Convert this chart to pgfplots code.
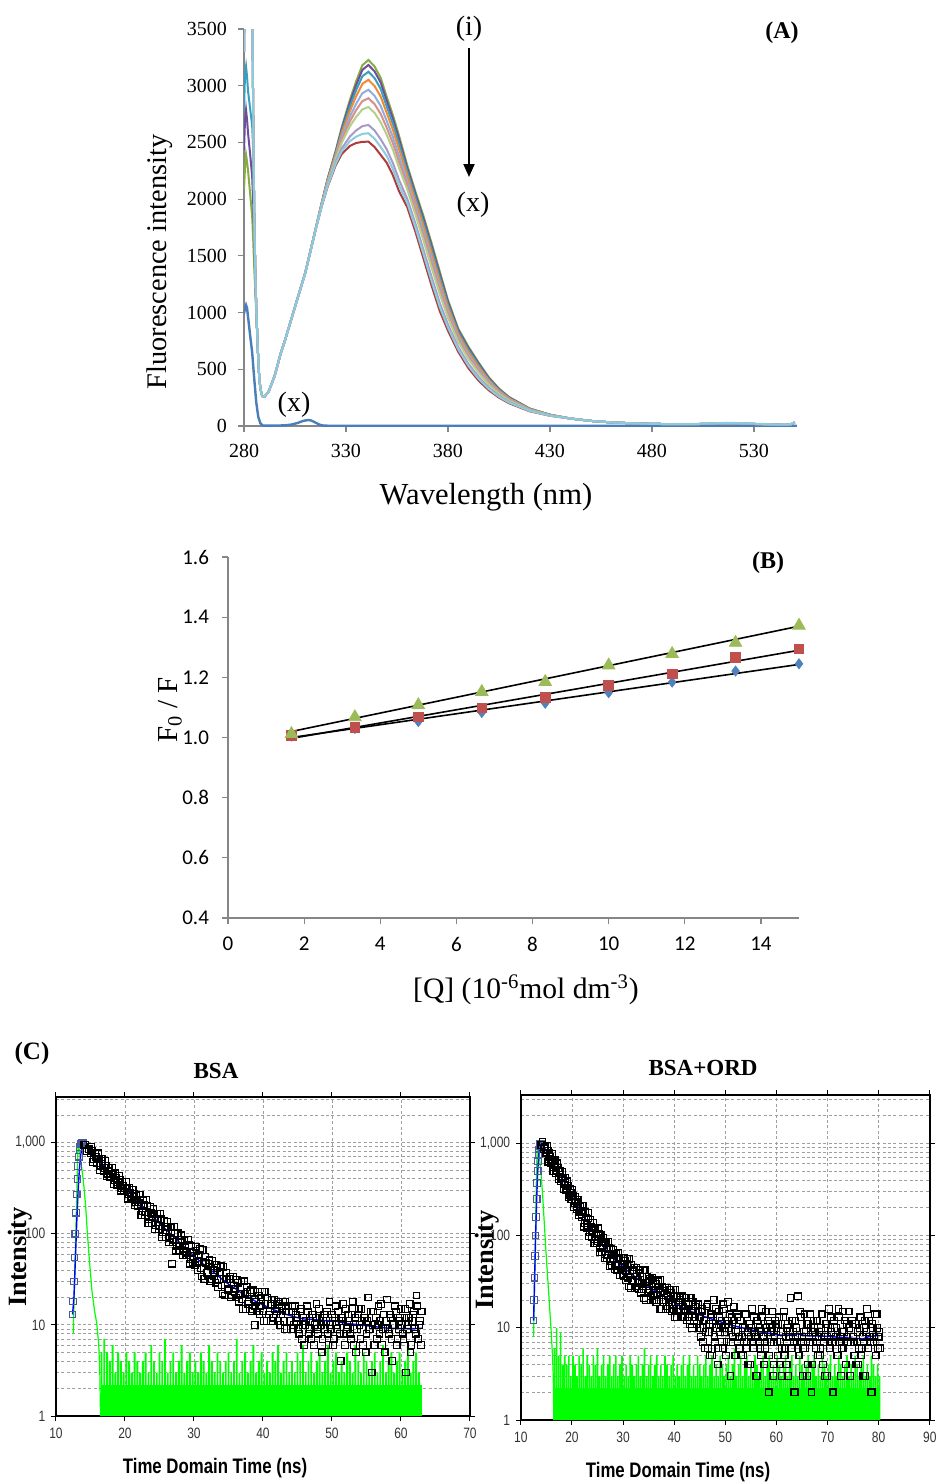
\documentclass[border=0pt]{standalone}
\usepackage{fontspec}
\setmainfont{Liberation Serif}
\newfontfamily\calibri{Carlito}
\newfontfamily\arial{Liberation Sans}
\usepackage{pgfplots}
\pgfplotsset{compat=1.18}
\usepackage{pgfplotstable}
\usetikzlibrary{arrows.meta}

\definecolor{axgray}{HTML}{868686}
\definecolor{cblue}{HTML}{4A7EBB}
\definecolor{cred}{HTML}{B03A37}
\definecolor{cgreen}{HTML}{86AC43}
\definecolor{cpurple}{HTML}{6E4E9C}
\definecolor{cteal}{HTML}{3A9FBE}
\definecolor{corange}{HTML}{F28A33}
\definecolor{clblue}{HTML}{8FAEDB}
\definecolor{cpink}{HTML}{D98E8C}
\definecolor{clgreen}{HTML}{B3CF8A}
\definecolor{clav}{HTML}{A999C9}
\definecolor{clteal}{HTML}{8ACBDF}
\definecolor{bblue}{HTML}{4F81BD}
\definecolor{bred}{HTML}{C0504D}
\definecolor{bgreen}{HTML}{9BBB59}
\definecolor{risecol}{HTML}{4A5A9A}
\definecolor{ticktxt}{HTML}{333333}

\pgfplotstableread{
x g p t o lb pk lg lv lt r
280 2080 2430 2780 3300 3300 3300 3300 3300 3300 3300
280.5 2280 2700 3100 4000 4000 4000 4000 4000 4000 4000
281 2390 2787 3170 4500 4500 4500 4500 4500 4500 4500
281.5 2330 2700 3080 4500 4500 4500 4500 4500 4500 4500
282 2250 2580 2950 4500 4500 4500 4500 4500 4500 4500
283 2050 2400 2800 4200 4200 4200 4200 4200 4200 4200
284 1850 2200 2650 3800 3800 3800 3800 3800 3800 3800
284.5 1650 1980 2450 2800 2800 2800 2800 2800 2800 2800
285 1400 1650 1850 1900 1900 1900 1900 1900 1900 1900
285.5 1200 1350 1400 1400 1400 1400 1400 1400 1400 1400
286 1000 1030 1050 1050 1050 1050 1050 1050 1050 1050
286.5 800 800 800 800 800 800 800 800 800 800
287 580 580 580 580 580 580 580 580 580 580
287.5 420 420 420 420 420 420 420 420 420 420
288 340 340 340 340 340 340 340 340 340 340
288.5 290 290 290 290 290 290 290 290 290 290
289 262 262 262 262 262 262 262 262 262 262
290 258 258 258 258 258 258 258 258 258 258
292 300 300 300 300 300 300 300 300 300 300
295 440 440 440 440 440 440 440 440 440 440
298 641 641 641 641 641 641 641 641 641 641
300 750 750 750 750 750 750 750 750 750 750
305 1050 1050 1050 1050 1050 1050 1050 1050 1050 1050
308 1230 1230 1230 1230 1229 1229 1229 1228 1228 1228
310 1350 1350 1349 1349 1348 1348 1347 1346 1346 1345
315 1730 1729 1729 1728 1726 1725 1724 1722 1721 1720
318 1960 1958 1956 1953 1949 1946 1943 1936 1933 1930
321 2180 2176 2170 2163 2154 2147 2140 2124 2117 2110
325 2430 2422 2411 2398 2383 2369 2355 2327 2313 2300
328 2640 2625 2605 2582 2552 2528 2502 2449 2425 2400
332 2880 2855 2821 2780 2730 2688 2644 2554 2512 2470
335 3040 3007 2962 2908 2841 2785 2726 2606 2551 2495
338 3180 3139 3083 3016 2934 2864 2791 2643 2575 2505
341 3227 3183 3123 3052 2964 2890 2812 2654 2581 2507
344 3170 3127 3068 2997 2911 2838 2761 2605 2533 2460
347 3070 3029 2972 2905 2822 2752 2678 2529 2460 2390
350 2900 2865 2816 2759 2688 2629 2566 2438 2380 2320
353 2740 2708 2664 2611 2547 2492 2435 2318 2265 2210
356 2560 2530 2489 2441 2381 2331 2278 2170 2120 2070
360 2300 2277 2247 2210 2165 2127 2087 2005 1968 1930
364 2070 2048 2019 1984 1940 1904 1866 1787 1752 1715
368 1850 1827 1796 1759 1713 1675 1634 1552 1514 1475
372 1610 1587 1556 1519 1473 1435 1394 1312 1274 1235
376 1360 1339 1310 1275 1233 1197 1160 1083 1048 1012
380 1110 1094 1071 1044 1011 984 954 895 868 840
385 860 847 830 810 785 764 742 697 676 655
390 700 688 673 654 631 611 591 549 530 510
395 560 550 537 521 502 485 468 433 416 400
400 430 423 413 402 388 376 364 338 327 315
405 330 325 318 311 301 293 284 266 258 250
410 255 252 247 242 235 229 223 211 206 200
420 155 153 151 149 146 143 141 135 133 130
430 100 99 99 98 96 95 94 92 91 90
440 66 66 66 66 66 66 66 66 66 66
450 45 45 45 45 45 45 45 45 45 45
460 32 32 32 32 32 32 32 32 32 32
470 24 24 24 24 24 24 24 24 24 24
480 19 19 19 19 19 19 19 19 19 19
490 16 16 16 16 16 16 16 16 16 16
500 16 16 16 16 16 16 16 16 17 16
510 21 21 21 21 21 21 21 21 24 20
515 24 24 24 24 24 24 24 24 27 23
520 24 24 24 24 24 24 24 24 27 23
530 18 18 18 18 18 18 18 18 21 17
540 12 12 12 12 12 12 12 12 14 11
545 10 10 10 10 10 10 10 10 12 10
548 14 14 14 14 14 14 14 14 16 14
550 32 32 32 32 32 32 32 32 34 30
}\spectra

\pgfplotstableread{
x y
280 990
280.5 1040
281 1067
281.5 1040
282 960
283 800
284 650
285 420
286 210
287 80
288 25
289 6
290 3
295 3
300 6
303 12
306 25
309 45
311.5 53
313 48
315 30
317 12
319 4
322 2
340 2
400 1
551 1
}\bluecurve

\begin{document}
\begin{tikzpicture}
\path[use as bounding box] (0pt,0pt) rectangle (468.5pt,-742pt);

% ---------------- Panel A ----------------
\begin{axis}[at={(122pt,-213pt)}, anchor=south west, scale only axis,
  width=276.4pt, height=198.5pt,
  xmin=280, xmax=551, ymin=0, ymax=3500,
  axis x line*=bottom, axis y line*=left,
  axis line style={draw=axgray, line width=0.6pt},
  xtick={280,330,380,430,480,530}, ytick={0,500,1000,1500,2000,2500,3000,3500},
  tick style={draw=axgray, line width=0.6pt}, tick align=outside, major tick length=3pt,
  tick label style={font=\fontsize{10}{12}\selectfont},
  xticklabel style={yshift=-2.5pt}, yticklabel style={xshift=-2pt},
  /pgf/number format/assume math mode=true, /pgf/number format/1000 sep={},
  clip=true]
\addplot[cblue, line width=1.2pt] table[x=x,y=y]{\bluecurve};
\addplot[cred, line width=1pt] table[x=x,y=r]{\spectra};
\addplot[cgreen, line width=1pt] table[x=x,y=g]{\spectra};
\addplot[cpurple, line width=1pt] table[x=x,y=p]{\spectra};
\addplot[cteal, line width=1pt] table[x=x,y=t]{\spectra};
\addplot[corange, line width=1pt] table[x=x,y=o]{\spectra};
\addplot[clblue, line width=1pt] table[x=x,y=lb]{\spectra};
\addplot[cpink, line width=1pt] table[x=x,y=pk]{\spectra};
\addplot[clgreen, line width=1pt] table[x=x,y=lg]{\spectra};
\addplot[clav, line width=1pt] table[x=x,y=lv]{\spectra};
\addplot[clteal, line width=1pt] table[x=x,y=lt]{\spectra};
\end{axis}
\node[font=\fontsize{14.2}{16}\selectfont, rotate=90] at (80pt,-131pt) {Fluorescence intensity};
\node[font=\fontsize{15.3}{17}\selectfont] at (243pt,-248.5pt) {Wavelength (nm)};
\node[font=\fontsize{14}{16}\selectfont] at (234.5pt,-14.5pt) {(i)};
\draw[line width=1pt, -{Triangle[length=6.5pt,width=5.5pt]}] (234.5pt,-24pt) -- (234.5pt,-88.5pt);
\node[font=\fontsize{14}{16}\selectfont] at (236.5pt,-102.5pt) {(x)};
\node[font=\fontsize{14}{16}\selectfont] at (147pt,-202.5pt) {(x)};
\node[font=\bfseries\fontsize{12}{14}\selectfont] at (391pt,-16.5pt) {(A)};

% ---------------- Panel B ----------------
\begin{axis}[at={(114pt,-459pt)}, anchor=south west, scale only axis,
  width=285.5pt, height=180.5pt,
  xmin=0, xmax=15, ymin=0.4, ymax=1.6,
  axis x line*=bottom, axis y line*=left,
  axis line style={draw=axgray, line width=0.6pt},
  xtick={0,2,4,6,8,10,12,14}, ytick={0.4,0.6,0.8,1.0,1.2,1.4,1.6},
  tick style={draw=axgray, line width=0.6pt}, tick align=outside, major tick length=3pt,
  tick label style={font=\calibri\fontsize{10.5}{12}\selectfont},
  xticklabel style={yshift=-3pt}, yticklabel style={xshift=-3pt},
  yticklabel style={/pgf/number format/.cd, fixed, fixed zerofill, precision=1},
  /pgf/number format/assume math mode=true,
  clip=false]
\addplot[only marks, mark=diamond*, mark size=2.5pt, mark options={fill=bblue, draw=bblue}]
  coordinates {(1.667,1.005)(3.333,1.030)(5,1.053)(6.667,1.083)(8.333,1.114)(10,1.149)(11.667,1.184)(13.333,1.221)(15,1.245)};
\addplot[only marks, mark=square*, mark size=2.4pt, mark options={fill=bred, draw=bred}]
  coordinates {(1.667,1.008)(3.333,1.034)(5,1.069)(6.667,1.099)(8.333,1.133)(10,1.173)(11.667,1.211)(13.333,1.267)(15,1.294)};
\addplot[only marks, mark=triangle*, mark size=3.6pt, mark options={fill=bgreen, draw=bgreen}]
  coordinates {(1.667,1.012)(3.333,1.068)(5,1.108)(6.667,1.152)(8.333,1.185)(10,1.240)(11.667,1.278)(13.333,1.315)(15,1.372)};
\addplot[black, line width=0.8pt] coordinates {(1.667,1.020)(15,1.370)};
\addplot[black, line width=0.8pt] coordinates {(1.667,0.997)(15,1.290)};
\addplot[black, line width=0.8pt] coordinates {(1.667,1.000)(15,1.243)};
\end{axis}
\node[font=\fontsize{14.5}{16}\selectfont, rotate=90] at (85pt,-355pt) {F\textsubscript{0} / F};
\node[font=\fontsize{14.8}{17}\selectfont] at (263pt,-495pt) {[Q] (10\textsuperscript{-6}mol dm\textsuperscript{-3})};
\node[font=\bfseries\fontsize{12}{14}\selectfont] at (384pt,-281.5pt) {(B)};

% ---------------- Panel C left (BSA) ----------------
\begin{axis}[at={(28pt,-708pt)}, anchor=south west, scale only axis, width=207pt, height=159.5pt,
  xmin=10, xmax=70, ymode=log, ymin=1, ymax=3162, xtick={10,20,30,40,50,60,70},
  ytick={1,10,100,1000}, yticklabels={1,10,100,{1,000}},
  minor ytick={2,3,4,5,6,7,8,9,20,30,40,50,60,70,80,90,200,300,400,500,600,700,800,900,2000,3000},
  grid=both,
  major grid style={dash pattern=on 1.5pt off 1.2pt, draw=gray!75, line width=0.4pt},
  minor grid style={dash pattern=on 1.5pt off 1.2pt, draw=gray!75, line width=0.4pt},
  axis line style={line width=1pt, black},
  tick align=outside, major tick length=2.5pt, minor tick length=0pt,
  tick style={black, line width=0.5pt},
  tick label style={font=\arial\fontsize{7.5}{8}\selectfont, xscale=0.8, text=ticktxt},
  /pgf/number format/assume math mode=true,
  clip=true]
\addplot[fill=green, draw=none] coordinates {(16.5,1)(16.5,2.2)(63,2.2)(63,1)};
\addplot[ybar, bar width=0.95pt, fill=green, draw=none] coordinates {
(16.6,5)(17,7)(17.4,5)(17.8,4)(18.2,6)(18.6,3)(19,5)(19.4,4)(19.8,3)(20.2,5)(20.6,4)(21,3)(21.4,5)(21.8,4)(22.2,3)(22.6,4)(23,5)(23.4,3)(23.8,6)(24.2,4)(24.6,3)(25,5)(25.4,4)(25.8,7)(26.2,3)(26.6,4)(27,5)(27.4,3)(27.8,4)(28.2,6)(28.6,3)(29,4)(29.4,5)(29.8,3)(30.2,4)(30.6,3)(31,5)(31.4,4)(31.8,3)(32.2,6)(32.6,4)(33,3)(33.4,5)(33.8,4)(34.2,3)(34.6,4)(35,5)(35.4,3)(35.8,4)(36.2,7)(36.6,3)(37,4)(37.4,5)(37.8,3)(38.2,4)(38.6,6)(39,3)(39.4,4)(39.8,5)(40.2,3)(40.6,4)(41,3)(41.4,5)(41.8,4)(42.2,6)(42.6,3)(43,4)(43.4,5)(43.8,3)(44.2,4)(44.6,3)(45,5)(45.4,4)(45.8,6)(46.2,3)(46.6,4)(47,5)(47.4,3)(47.8,4)(48.2,5)(48.6,3)(49,4)(49.4,6)(49.8,3)(50.2,4)(50.6,5)(51,3)(51.4,4)(51.8,3)(52.2,5)(52.6,4)(53,3)(53.4,6)(53.8,4)(54.2,3)(54.6,5)(55,4)(55.4,3)(55.8,4)(56.2,5)(56.6,3)(57,4)(57.4,6)(57.8,3)(58.2,4)(58.6,5)(59,3)(59.4,4)(59.8,5)(60.2,3)(60.6,4)(61,6)(61.4,3)(61.8,4)(62.2,5)(62.6,3)};
\addplot[green, line width=0.6pt] coordinates {(12.5,8)(12.8,60)(13.0,250)(13.1,500)(13.2,1040)(13.4,800)(13.7,550)(14,360)(14.3,200)(14.55,100)(14.9,45)(15.2,24)(15.6,14)(15.9,10.5)(16.2,6)(16.35,3)(16.45,1)};
\addplot[only marks, mark=square, mark size=1.65pt, mark options={line width=0.55pt, draw=risecol}] coordinates {
(12.4,13)(12.5,18)(12.6,30)(12.7,55)(12.8,100)(12.9,170)(13.0,270)(13.1,400)(13.2,550)(13.3,700)(13.4,820)(13.5,900)(13.6,960)(13.7,990)(13.8,1000)(13.9,995)};
\addplot[only marks, mark=square, mark size=1.65pt, mark options={line width=0.6pt, draw=black}] coordinates {
(14,939)(14.25,951)(14.5,806)(14.75,844)(15,759)(15.25,807)(15.5,657)(15.75,696)(16,651)(16.25,659)(16.5,559)(16.75,585)(17,527)(17.25,561)(17.5,456)(17.75,483)(18,452)(18.25,458)(18.5,388)(18.75,407)(19,366)(19.25,390)(19.5,317)(19.75,337)(20,315)(20.25,319)(20.5,271)(20.75,283)(21,255)(21.25,272)(21.5,222)(21.75,235)(22,220)(22.25,236)(22.5,178)(22.75,205)(23,172)(23.25,204)(23.5,145)(23.75,168)(24,155)(24.25,166)(24.5,125)(24.75,144)(25,121)(25.25,144)(25.5,103)(25.75,120)(26,110)(26.25,118)(26.5,89)(26.75,103)(26.8,47)(27,86)(27.25,102)(27.5,74)(27.75,85)(28,79)(28.25,85)(28.5,64)(28.75,74)(29,62)(29.25,75)(29.5,53)(29.75,62)(30,57)(30.25,72)(30.5,40)(30.75,59)(31,42)(31.25,66)(31.5,32)(31.75,48)(32,38)(32.25,51)(32.5,32)(32.75,40)(33,37)(33.25,46)(33.5,26)(33.75,38)(34,27)(34.25,43)(34.5,21)(34.75,32)(35,25)(35.25,34)(35.5,21)(35.75,27)(36,25)(36.25,31)(36.5,18)(36.75,26)(37,19)(37.25,30)(37.5,15)(37.75,23)(38,18)(38.25,24)(38.5,15)(38.75,19)(38.8,10)(39,18)(39.25,23)(39.5,13)(39.75,20)(40,14)(40.25,23)(40.5,11)(40.75,17)(41,14)(41.25,19)(41.5,12)(41.75,15)(42,14)(42.25,18)(42.5,10)(42.75,16)(43,11)(43.25,18)(43.5,9)(43.75,14)(44,11)(44.25,16)(44.5,10)(44.75,13)
(45,12)(45.25,8)(45.5,15)(45.75,10)(46,6)(46.25,11)(46.5,14)(46.75,9)(47,7)(47.25,13)(47.5,10)(47.75,17)(48,8)(48.25,12)(48.5,5)(48.75,11)(49,9)(49.25,14)(49.5,6)(49.75,10)(50,13)(50.25,7)(50.5,16)(50.75,9)(51,11)(51.25,4)(51.5,12)(51.75,8)(52,15)(52.25,10)
(52.5,11)(52.75,7)(53,18)(53.25,9)(53.5,5)(53.75,13)(54,10)(54.25,15)(54.5,6)(54.75,12)(55,8)(55.25,20)(55.5,9)(55.75,3)(56,14)(56.25,10)(56.5,7)(56.75,16)(57,11)(57.25,6)(57.5,13)(57.75,9)(58,19)(58.25,8)(58.5,12)(58.75,4)(59,10)(59.25,14)(59.5,7)(59.75,11)
(60,15)(60.25,8)(60.5,12)(60.75,3)(61,10)(61.25,17)(61.5,6)(61.75,13)(62,9)(62.25,21)(62.5,7)(62.75,11)(63,14)};
\addplot[only marks, mark=square, mark size=1.65pt, mark options={line width=0.6pt, draw=black}] coordinates {
(15.125,903)(15.375,613)(15.625,768)(15.875,599)(16.125,763)(16.375,499)(16.625,662)(16.875,488)(17.125,627)(17.375,426)(17.625,534)(17.875,417)(18.125,530)(18.375,346)(18.625,461)(18.875,340)(19.125,435)(19.375,297)(19.625,371)(19.875,290)(20.125,370)(20.375,242)(20.625,320)(20.875,237)(21.125,303)(21.375,207)(21.625,259)(21.875,203)
(22.125,269)(22.375,161)(22.625,232)(22.875,161)(23.125,235)(23.375,130)(23.625,198)(23.875,130)(24.125,189)(24.375,113)(24.625,164)(24.875,113)(25.125,165)(25.375,92)(25.625,140)(25.875,92)(26.125,134)(26.375,80)(26.625,117)(26.875,81)(27.125,118)(27.375,65)(27.625,101)(27.875,66)(28.125,96)(28.375,58)(28.625,84)(28.875,58)(29.125,86)(29.375,47)(29.625,73)(29.875,48)
(30.125,45)(30.375,65)(30.625,49)(30.875,68)(31.125,34)(31.375,49)(31.625,56)(31.875,37)(32.125,47)(32.375,30)(32.625,50)(32.875,34)(33.125,29)(33.375,42)(33.625,32)(33.875,44)(34.125,22)(34.375,32)(34.625,37)(34.875,24)(35.125,32)(35.375,20)(35.625,34)(35.875,23)(36.125,20)(36.375,29)(36.625,22)(36.875,30)(37.125,15)(37.375,22)(37.625,26)(37.875,17)(38.125,23)(38.375,14)(38.625,24)(38.875,16)(39.125,14)(39.375,21)(39.625,16)(39.875,23)(40.125,11)(40.375,17)(40.625,20)(40.875,13)(41.125,17)(41.375,11)(41.625,19)(41.875,13)(42.125,11)(42.375,17)(42.625,13)(42.875,18)(43.125,9)(43.375,14)(43.625,16)(43.875,11)(44.125,14)(44.375,9)(44.625,16)(44.875,11)
(45.125,9)(45.375,14)(45.625,7)(45.875,12)(46.125,10)(46.375,16)(46.625,8)(46.875,11)(47.125,13)(47.375,6)(47.625,12)(47.875,9)(48.125,15)(48.375,10)(48.625,7)(48.875,13)(49.125,11)(49.375,8)(49.625,18)(49.875,9)(50.125,6)(50.375,12)(50.625,10)(50.875,14)(51.125,8)(51.375,11)(51.625,17)(51.875,6)(52.125,9)(52.375,13)
(52.625,8)(52.875,13)(53.125,6)(53.375,12)(53.625,9)(53.875,15)(54.125,7)(54.375,11)(54.625,12)(54.875,5)(55.125,11)(55.375,9)(55.625,14)(55.875,10)(56.125,6)(56.375,12)(56.625,10)(56.875,8)(57.125,17)(57.375,9)(57.625,5)(57.875,11)(58.125,9)(58.375,13)(58.625,7)(58.875,10)(59.125,16)(59.375,6)(59.625,9)(59.875,12)
(60.125,10)(60.375,7)(60.625,15)(60.875,9)(61.125,12)(61.375,5)(61.625,11)(61.875,14)(62.125,8)(62.375,16)(62.625,10)(62.875,6)};
\addplot[blue, line width=0.7pt] coordinates {(12.4,13)(12.6,20)(12.8,50)(13.0,130)(13.2,290)(13.4,520)(13.6,750)(13.8,900)(14,940)(14.5,870)(15,785)(16,652)(17,543)(18,452)(19,377)(20,315)(21,263)(22,220)(23,185)(24,155)(25,130)(26,110)(27,93)(28,79)(29,67)(30,57)(31,49)(32,42)(33,37)(34,32)(35,28)(36,25)(37,22)(38,20)(39,18)(40,16.6)(41,15.3)(42,14.2)(43,13.3)(44,12.6)(45,12)(46,11.6)(47,11.5)(48,11.3)(49,11.1)(50,11.2)(51,10.8)(52,10.4)(53,10.2)(54,10)(56,9.6)(58,9.2)(60,9.1)(62,9.1)(63,9.2)};
\end{axis}

% ---------------- Panel C right (BSA+ORD) ----------------
\begin{axis}[at={(260.4pt,-710pt)}, anchor=south west, scale only axis, width=204.5pt, height=162.5pt,
  xmin=10, xmax=90, ymode=log, ymin=1, ymax=3350, xtick={10,20,30,40,50,60,70,80,90},
  ytick={1,10,100,1000}, yticklabels={1,10,100,{1,000}},
  minor ytick={2,3,4,5,6,7,8,9,20,30,40,50,60,70,80,90,200,300,400,500,600,700,800,900,2000,3000},
  grid=both,
  major grid style={dash pattern=on 1.5pt off 1.2pt, draw=gray!75, line width=0.4pt},
  minor grid style={dash pattern=on 1.5pt off 1.2pt, draw=gray!75, line width=0.4pt},
  axis line style={line width=1pt, black},
  tick align=outside, major tick length=2.5pt, minor tick length=0pt,
  tick style={black, line width=0.5pt},
  tick label style={font=\arial\fontsize{7.5}{8}\selectfont, xscale=0.8, text=ticktxt},
  /pgf/number format/assume math mode=true,
  clip=true]
\addplot[fill=green, draw=none] coordinates {(16.5,1)(16.5,2.2)(80.3,2.2)(80.3,1)};
\addplot[ybar, bar width=0.8pt, fill=green, draw=none] coordinates {
(16.6,6)(17,10)(17.4,5)(17.8,9)(18.2,4)(18.6,5)(19,4)(19.4,5)(19.8,3)(20.2,5)(20.6,4)(21,3)(21.4,5)(21.8,4)(22.2,6)(22.6,3)(23,5)(23.4,4)(23.8,3)(24.2,5)(24.6,4)(25,6)(25.4,3)(25.8,4)(26.2,5)(26.6,3)(27,4)(27.4,5)(27.8,3)(28.2,4)(28.6,5)(29,3)(29.4,4)(29.8,5)(30.2,3)(30.6,4)(31,3)(31.4,5)(31.8,4)(32.2,3)(32.6,4)(33,5)(33.4,3)(33.8,4)(34.2,6)(34.6,3)(35,4)(35.4,5)(35.8,3)(36.2,4)(36.6,5)(37,3)(37.4,4)(37.8,3)(38.2,5)(38.6,4)(39,3)(39.4,4)(39.8,5)(40.2,3)(40.6,4)(41,3)(41.4,4)(41.8,5)(42.2,3)(42.6,4)(43,5)(43.4,3)(43.8,4)(44.2,3)(44.6,5)(45,4)(45.4,3)(45.8,4)(46.2,5)(46.6,3)(47,4)(47.4,5)(47.8,3)(48.2,4)(48.6,3)(49,5)(49.4,4)(49.8,3)(50.2,4)(50.6,5)(51,3)(51.4,4)(51.8,6)(52.2,3)(52.6,4)(53,5)(53.4,3)(53.8,4)(54.2,5)(54.6,3)(55,4)(55.4,3)(55.8,5)(56.2,4)(56.6,3)(57,4)(57.4,5)(57.8,3)(58.2,4)(58.6,5)(59,3)(59.4,4)(59.8,3)(60.2,5)(60.6,4)(61,3)(61.4,4)(61.8,5)(62.2,3)(62.6,4)(63,5)(63.4,3)(63.8,4)(64.2,3)(64.6,5)(65,4)(65.4,3)(65.8,4)(66.2,5)(66.6,3)(67,4)(67.4,5)(67.8,3)(68.2,4)(68.6,3)(69,5)(69.4,4)(69.8,3)(70.2,4)(70.6,5)(71,3)(71.4,4)(71.8,3)(72.2,5)(72.6,4)(73,3)(73.4,4)(73.8,5)(74.2,3)(74.6,4)(75,3)(75.4,5)(75.8,4)(76.2,3)(76.6,4)(77,5)(77.4,3)(77.8,4)(78.2,3)(78.6,5)(79,4)(79.4,3)(79.8,4)(80.2,3)};
\addplot[green, line width=0.6pt] coordinates {(12.5,8)(12.8,60)(13.0,300)(13.15,700)(13.3,1080)(13.6,750)(13.96,470)(14.3,260)(14.6,135)(14.9,70)(15.2,39)(15.6,18)(15.9,10)(16.2,5)(16.35,3)(16.45,1)};
\addplot[only marks, mark=square, mark size=1.65pt, mark options={line width=0.55pt, draw=risecol}] coordinates {
(12.5,12)(12.6,20)(12.7,35)(12.8,60)(12.9,100)(13.0,160)(13.1,250)(13.2,370)(13.3,500)(13.4,640)(13.5,760)(13.6,860)(13.7,930)(13.8,980)(13.9,1000)};
\addplot[only marks, mark=square, mark size=1.65pt, mark options={line width=0.6pt, draw=black}] coordinates {
(14,960)(14.25,1040)(14.5,874)(14.75,906)(15,795)(15.25,839)(15.5,677)(15.75,711)(16,660)(16.25,663)(16.5,556)(16.75,577)(17,514)(17.25,542)(17.5,437)(17.75,459)(18,425)(18.25,426)(18.5,358)(18.75,371)(19,330)(19.25,347)(19.5,278)(19.75,291)(20,268)(20.25,269)(20.5,226)(20.75,234)(21,209)(21.25,220)(21.5,178)(21.75,186)(22,172)(22.25,184)(22.5,137)(22.75,157)(23,130)(23.25,153)(23.5,108)(23.75,125)(24,114)(24.25,122)(24.5,92)(24.75,105)(25,87)(25.25,104)(25.5,74)(25.75,85)(26,78)(26.25,84)(26.5,63)(26.75,73)(27,61)(27.25,74)(27.5,53)(27.75,61)(28,57)(28.25,62)(28.5,48)(28.75,56)(29,47)(29.25,57)(29.5,42)(29.75,49)(30,46)(30.25,58)(30.5,33)(30.75,49)(31,35)(31.25,56)(31.5,27)(31.75,42)(32,33)(32.25,45)(32.5,28)(32.75,36)(33,33)(33.25,43)(33.5,24)(33.75,36)(34,26)(34.25,42)(34.5,20)(34.75,31)(35,25)(35.25,34)(35.5,22)(35.75,28)(36,26)(36.25,33)(36.5,19)(36.75,28)(37,20)(37.25,33)(37.5,16)(37.75,25)(38,20)(38.25,27)(38.5,17)(38.75,22)(39,20)(39.25,26)(39.5,15)(39.75,22)(40,16)(40.25,26)(40.5,13)(40.75,19)(41,16)(41.25,21)(41.5,13)(41.75,17)(42,16)(42.25,21)(42.5,12)(42.75,18)(43,13)(43.25,21)(43.5,10)(43.75,16)(44,13)(44.25,18)(44.5,11)(44.75,15)
(45,13)(45.25,8)(45.5,16)(45.75,10)(46,6)(46.25,12)(46.5,18)(46.75,9)(47,5)(47.25,14)(47.5,11)(47.75,20)(48,7)(48.25,10)(48.5,4)(48.75,15)(49,9)(49.25,12)(49.5,6)(49.75,16)(50,10)(50.25,7)(50.5,19)(50.75,11)(51,3)(51.25,13)(51.5,8)(51.75,12)(52,5)(52.25,14)
(52.5,9)(52.75,6)(53,12)(53.25,8)(53.5,5)(53.75,10)(54,14)(54.25,7)(54.5,4)(54.75,11)(55,8)(55.25,16)(55.5,6)(55.75,9)(56,3)(56.25,12)(56.5,7)(56.75,10)(57,5)(57.25,13)(57.5,8)(57.75,6)(58,15)(58.25,9)(58.5,2)(58.75,11)(59,7)(59.25,10)(59.5,4)(59.75,12)
(60,10)(60.25,5)(60.5,13)(60.75,7)(61,3)(61.25,9)(61.5,15)(61.75,6)(62,4)(62.25,11)(62.5,8)(62.75,21)(63,6)(63.25,9)(63.5,2)(63.75,12)(64,7)(64.25,22)(64.5,5)(64.75,13)(65,8)(65.25,6)(65.5,14)(65.75,9)(66,3)(66.25,11)(66.5,7)(66.75,10)(67,4)(67.25,12)
(67.5,9)(67.75,6)(68,12)(68.25,8)(68.5,5)(68.75,10)(69,14)(69.25,7)(69.5,3)(69.75,11)(70,8)(70.25,16)(70.5,6)(70.75,9)(71,2)(71.25,12)(71.5,7)(71.75,10)(72,5)(72.25,13)(72.5,8)(72.75,6)(73,15)(73.25,9)(73.5,4)(73.75,11)(74,7)(74.25,10)(74.5,3)(74.75,12)
(75,8)(75.25,5)(75.5,11)(75.75,7)(76,4)(76.25,10)(76.5,13)(76.75,6)(77,3)(77.25,12)(77.5,9)(77.75,16)(78,6)(78.25,8)(78.5,2)(78.75,11)(79,7)(79.25,14)(79.5,5)(79.75,10)(80,8)(80.25,6)};
\addplot[only marks, mark=square, mark size=1.65pt, mark options={line width=0.6pt, draw=black}] coordinates {
(15.125,942)(15.375,635)(15.625,788)(15.875,610)(16.125,770)(16.375,499)(16.625,657)(16.875,480)(17.125,609)(17.375,410)(17.625,508)(17.875,393)(18.125,496)(18.375,321)(18.625,422)(18.875,308)(19.125,389)(19.375,261)(19.625,322)(19.875,248)(20.125,313)(20.375,203)(20.625,266)(20.875,194)(21.125,247)(21.375,166)(21.625,206)(21.875,159)
(22.125,210)(22.375,125)(22.625,179)(22.875,122)(23.125,177)(23.375,98)(23.625,148)(23.875,96)(24.125,139)(24.375,83)(24.625,119)(24.875,82)(25.125,120)(25.375,66)(25.625,101)(25.875,66)(26.125,95)(26.375,57)(26.625,83)(26.875,57)(27.125,85)(27.375,47)(27.625,72)(27.875,48)(28.125,70)(28.375,43)(28.625,64)(28.875,42)(29.125,65)(29.375,37)(29.625,57)(29.875,38)
(30.125,36)(30.375,53)(30.625,41)(30.875,56)(31.125,28)(31.375,41)(31.625,48)(31.875,32)(32.125,42)(32.375,27)(32.625,45)(32.875,31)(33.125,26)(33.375,39)(33.625,30)(33.875,42)(34.125,21)(34.375,31)(34.625,36)(34.875,24)(35.125,32)(35.375,20)(35.625,35)(35.875,23)(36.125,20)(36.375,30)(36.625,23)(36.875,32)(37.125,16)(37.375,24)(37.625,28)(37.875,19)(38.125,25)(38.375,16)(38.625,27)(38.875,19)(39.125,16)(39.375,24)(39.625,18)(39.875,26)(40.125,13)(40.375,19)(40.625,22)(40.875,15)(41.125,20)(41.375,13)(41.625,22)(41.875,15)(42.125,13)(42.375,19)(42.625,15)(42.875,21)(43.125,11)(43.375,16)(43.625,19)(43.875,12)(44.125,17)(44.375,11)(44.625,18)(44.875,13)
(45.125,10)(45.375,15)(45.625,7)(45.875,12)(46.125,9)(46.375,17)(46.625,6)(46.875,11)(47.125,13)(47.375,5)(47.625,12)(47.875,8)(48.125,16)(48.375,10)(48.625,6)(48.875,13)(49.125,11)(49.375,7)(49.625,18)(49.875,9)(50.125,5)(50.375,12)(50.625,10)(50.875,14)(51.125,7)(51.375,11)(51.625,17)(51.875,5)(52.125,9)(52.375,13)
(52.625,8)(52.875,12)(53.125,5)(53.375,10)(53.625,7)(53.875,14)(54.125,6)(54.375,9)(54.625,11)(54.875,4)(55.125,10)(55.375,7)(55.625,13)(55.875,8)(56.125,3)(56.375,11)(56.625,9)(56.875,6)(57.125,16)(57.375,8)(57.625,4)(57.875,10)(58.125,7)(58.375,12)(58.625,5)(58.875,9)(59.125,15)(59.375,3)(59.625,8)(59.875,11)
(60.125,7)(60.375,11)(60.625,4)(60.875,9)(61.125,6)(61.375,13)(61.625,5)(61.875,8)(62.125,10)(62.375,3)(62.625,9)(62.875,6)(63.125,12)(63.375,7)(63.625,2)(63.875,10)(64.125,8)(64.375,5)(64.625,15)(64.875,7)(65.125,3)(65.375,9)(65.625,6)(65.875,11)(66.125,4)(66.375,8)(66.625,14)(66.875,2)(67.125,7)(67.375,10)
(67.625,8)(67.875,12)(68.125,5)(68.375,9)(68.625,6)(68.875,14)(69.125,4)(69.375,8)(69.625,11)(69.875,3)(70.125,10)(70.375,6)(70.625,13)(70.875,7)(71.125,2)(71.375,10)(71.625,8)(71.875,5)(72.125,16)(72.375,7)(72.625,3)(72.875,9)(73.125,6)(73.375,12)(73.625,4)(73.875,8)(74.125,15)(74.375,3)(74.625,7)(74.875,11)
(75.125,7)(75.375,11)(75.625,4)(75.875,9)(76.125,6)(76.375,13)(76.625,5)(76.875,8)(77.125,10)(77.375,3)(77.625,9)(77.875,6)(78.125,12)(78.375,7)(78.625,2)(78.875,10)(79.125,8)(79.375,5)(79.625,14)(79.875,6)(80.125,9)};
\addplot[blue, line width=0.7pt] coordinates {(12.5,12)(12.7,34)(12.9,98)(13.1,245)(13.3,490)(13.5,750)(13.7,920)(13.9,975)(14.2,985)(14.5,930)(15,820)(16,660)(17,530)(18,425)(19,340)(20,268)(21,215)(22,172)(23,140)(24,114)(25,94)(26,78)(27,66)(28,57)(29,51)(30,46)(31,41)(32,37)(33,33.5)(34,30.5)(35,28)(36,25.8)(37,23.8)(38,22)(39,20.4)(40,18.8)(41,17.4)(42,16.2)(43,15.3)(44,14.5)(45,13.8)(46,13.2)(48,12.1)(50,11.2)(52,10.4)(55,9.5)(58,8.8)(60,8.4)(62,8.3)(64,8.6)(66,8.2)(70,8.1)(72,7.9)(75,7.7)(77,7.6)(78,8)(80,8.3)};
\end{axis}

\node[font=\bfseries\fontsize{12.5}{14}\selectfont] at (16pt,-526.5pt) {(C)};
\node[font=\bfseries\fontsize{11.5}{14}\selectfont] at (108pt,-535.5pt) {BSA};
\node[font=\bfseries\fontsize{11.5}{14}\selectfont] at (351.5pt,-534pt) {BSA+ORD};
\node[font=\bfseries\fontsize{13.2}{15}\selectfont, rotate=90] at (10pt,-628.5pt) {Intensity};
\node[font=\bfseries\fontsize{13.2}{15}\selectfont, rotate=90] at (243.5pt,-630pt) {Intensity};
\node[font=\arial\bfseries\fontsize{10.5}{12}\selectfont, xscale=0.8] at (107.5pt,-734pt) {Time Domain Time (ns)};
\node[font=\arial\bfseries\fontsize{10.5}{12}\selectfont, xscale=0.8] at (339pt,-736pt) {Time Domain Time (ns)};
\end{tikzpicture}
\end{document}
